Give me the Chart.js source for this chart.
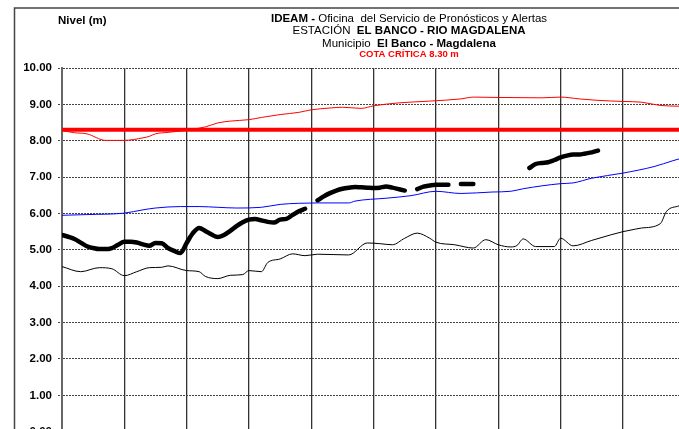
<!DOCTYPE html>
<html>
<head>
<meta charset="utf-8">
<script src="https://cdn.jsdelivr.net/npm/chart.js@4.4.1/dist/chart.umd.min.js"></script>
<style>
  html, body { margin: 0; padding: 0; background: #fff; overflow: hidden; }
  #wrap { width: 679px; height: 429px; overflow: hidden; position: relative; }
</style>
</head>
<body>
<div id="wrap"><canvas id="myCanvas" width="679" height="450"></canvas></div>
<script>
'use strict'

// x values are days from the left edge of the chart, gridline every 10 days
var yTicks = [0, 1, 2, 3, 4, 5, 6, 7, 8, 9, 10]
var criticalLevel = 8.30

var maxDays = [0, 2, 4, 7, 10, 13, 14, 15, 17, 20, 23, 25, 27, 30, 32, 35, 38, 40, 43, 45, 48, 50, 54, 59, 64, 66, 70, 77, 80, 83, 86, 90, 93, 96, 99]
var maxLevels = [8.28, 8.22, 8.19, 8.01, 8.01, 8.08, 8.12, 8.19, 8.23, 8.29, 8.38, 8.49, 8.54, 8.58, 8.64, 8.72, 8.78, 8.85, 8.90, 8.92, 8.89, 8.96, 9.04, 9.09, 9.15, 9.20, 9.19, 9.18, 9.20, 9.15, 9.11, 9.08, 9.06, 8.97, 8.95]

var meanDays = [0, 4, 10, 13, 15, 19, 22, 25, 28, 32, 35, 38, 41, 46, 47, 52, 56, 60, 64, 69, 72, 74, 80, 82, 85, 90, 95, 98, 99]
var meanLevels = [5.95, 5.97, 6.01, 6.10, 6.15, 6.19, 6.19, 6.17, 6.15, 6.17, 6.25, 6.28, 6.29, 6.29, 6.34, 6.42, 6.49, 6.61, 6.55, 6.59, 6.61, 6.68, 6.82, 6.84, 6.97, 7.11, 7.29, 7.45, 7.50]

var minDays = [0, 3, 6, 8, 10, 12, 14, 16, 17, 20, 22, 23, 25, 27, 29, 30, 32, 33, 35, 37, 39, 41, 46, 49, 51, 53, 55, 57, 59, 60, 63, 66, 68, 70, 72, 73, 74, 76, 79, 80, 82, 85, 88, 90, 92, 93, 96, 97, 99]
var minLevels = [4.54, 4.40, 4.51, 4.48, 4.29, 4.40, 4.51, 4.52, 4.56, 4.43, 4.40, 4.27, 4.21, 4.30, 4.32, 4.43, 4.40, 4.65, 4.75, 4.89, 4.84, 4.88, 4.86, 5.19, 5.17, 5.14, 5.32, 5.46, 5.32, 5.21, 5.14, 5.05, 5.28, 5.14, 5.08, 5.12, 5.30, 5.09, 5.09, 5.32, 5.11, 5.26, 5.41, 5.50, 5.57, 5.60, 5.72, 6.06, 6.21]

// current year, one value per day starting at day 0, null = no reading
var currentLevels = [
  5.41, 5.36, 5.30, 5.20, 5.10, 5.05, 5.02, 5.02, 5.05, 5.14,
  5.22, 5.22, 5.20, 5.15, 5.11, 5.19, 5.18, 5.05, 4.97, 4.91,
  5.19, 5.46, 5.60, 5.52, 5.42, 5.35, 5.41, 5.52, 5.65, 5.76,
  5.83, 5.85, 5.81, 5.77, 5.75, 5.83, 5.85, 5.96, 6.06, 6.13,
  null, 6.36, 6.47, 6.56, 6.63, 6.68, 6.71, 6.73, 6.72, 6.71,
  6.70, 6.71, 6.74, 6.71, 6.67, 6.63, null, 6.67, 6.74, 6.77,
  6.79, 6.79, 6.79, null, 6.81, 6.81, 6.81, null, null, null,
  null, null, null, null, null, 7.25, 7.36, 7.39, 7.41, 7.47,
  7.54, 7.59, 7.62, 7.62, 7.65, 7.68, 7.73
]

var canvas = document.getElementById("myCanvas")
var ctx = canvas.getContext("2d")
var fontName = "'Liberation Sans', Arial, sans-serif"

function toPoints(days, levels){
    var pts = []
    for(let i = 0; i < levels.length; i++){
        pts.push({x: days[i], y: levels[i]})
    }
    return pts
}

function drawRuns(c, runs, centerX, y, size){
    var total = 0
    for(let i = 0; i < runs.length; i++){
        c.font = (runs[i].b ? "bold " : "") + size + "px " + fontName
        total += c.measureText(runs[i].t).width
    }
    var x = centerX - total / 2
    for(let i = 0; i < runs.length; i++){
        c.font = (runs[i].b ? "bold " : "") + size + "px " + fontName
        c.fillText(runs[i].t, x, y)
        x += c.measureText(runs[i].t).width
    }
}

var frameAndTitles = {
    id: "frameAndTitles",
    afterDraw: function(chart){
        var c = chart.ctx
        c.save()
        // outer frame
        c.strokeStyle = "#444"
        c.lineWidth = 1.5
        c.beginPath()
        c.moveTo(14.5, 450)
        c.lineTo(14.5, 8)
        c.lineTo(679, 8)
        c.stroke()

        c.fillStyle = "#000"
        c.textBaseline = "middle"
        c.textAlign = "left"
        c.font = "bold 11.5px " + fontName
        c.fillText("Nivel (m)", 58, 21)

        drawRuns(c, [{t: "IDEAM -", b: true}, {t: " Oficina  del Servicio de Pronósticos y Alertas", b: false}], 409, 18.5, 11.5)
        drawRuns(c, [{t: "ESTACIÓN  ", b: false}, {t: "EL BANCO - RIO MAGDALENA", b: true}], 409, 31, 11.5)
        drawRuns(c, [{t: "Municipio  ", b: false}, {t: "El Banco - Magdalena", b: true}], 409, 43.5, 11.5)
        c.fillStyle = "#ff0000"
        drawRuns(c, [{t: "COTA CRÍTICA 8.30 m", b: true}], 409, 54.5, 9.5)
        c.restore()
    }
}

new Chart(ctx, {
    type: 'line',
    data: {
        datasets: [
            {
                label: 'Actual',
                data: toPoints(currentLevels.map(function(v, i){ return i }), currentLevels),
                borderColor: '#000000',
                borderWidth: 4.5,
                borderCapStyle: 'round',
                borderJoinStyle: 'round',
                spanGaps: false,
                cubicInterpolationMode: 'monotone',
                order: 0
            },
            {
                label: 'Cota crítica',
                data: toPoints([0, 99], [criticalLevel, criticalLevel]),
                borderColor: '#ff0000',
                borderWidth: 4,
                order: 1
            },
            {
                label: 'Máximo',
                data: toPoints(maxDays, maxLevels),
                borderColor: '#ff0000',
                borderWidth: 1,
                cubicInterpolationMode: 'monotone',
                order: 2
            },
            {
                label: 'Medio',
                data: toPoints(meanDays, meanLevels),
                borderColor: '#0000ff',
                borderWidth: 1,
                cubicInterpolationMode: 'monotone',
                order: 3
            },
            {
                label: 'Mínimo',
                data: toPoints(minDays, minLevels),
                borderColor: '#000000',
                borderWidth: 1,
                cubicInterpolationMode: 'monotone',
                order: 4
            }
        ]
    },
    options: {
        responsive: false,
        animation: false,
        events: [],
        elements: { point: { radius: 0 } },
        layout: { padding: { top: 68, left: 0, right: 0, bottom: 18.3 } },
        plugins: {
            legend: { display: false },
            tooltip: { enabled: false },
            title: { display: false }
        },
        scales: {
            x: {
                type: 'linear',
                min: 0,
                max: 99,
                ticks: { display: false },
                afterBuildTicks: function(scale){
                    var t = []
                    for(let v = 0; v <= 90; v += 10){ t.push({value: v}) }
                    scale.ticks = t
                },
                afterFit: function(scale){ scale.height = 0 },
                grid: { color: '#333', lineWidth: 1.3, drawTicks: false },
                border: { display: false }
            },
            y: {
                min: 0,
                max: 10,
                afterBuildTicks: function(scale){
                    scale.ticks = yTicks.map(function(v){ return {value: v} })
                },
                afterFit: function(scale){ scale.width = 62 },
                ticks: {
                    padding: 6,
                    color: '#000',
                    font: { family: fontName, size: 11.5, weight: 'bold' },
                    callback: function(v){ return Number(v).toFixed(2) }
                },
                grid: {
                    color: '#444',
                    lineWidth: 1,
                    tickLength: 4,
                    tickColor: '#444',
                    tickBorderDash: [2, 1]
                },
                border: { display: true, color: '#666', width: 2, dash: [2, 1] }
            }
        }
    },
    plugins: [frameAndTitles]
})
</script>
</body>
</html>
